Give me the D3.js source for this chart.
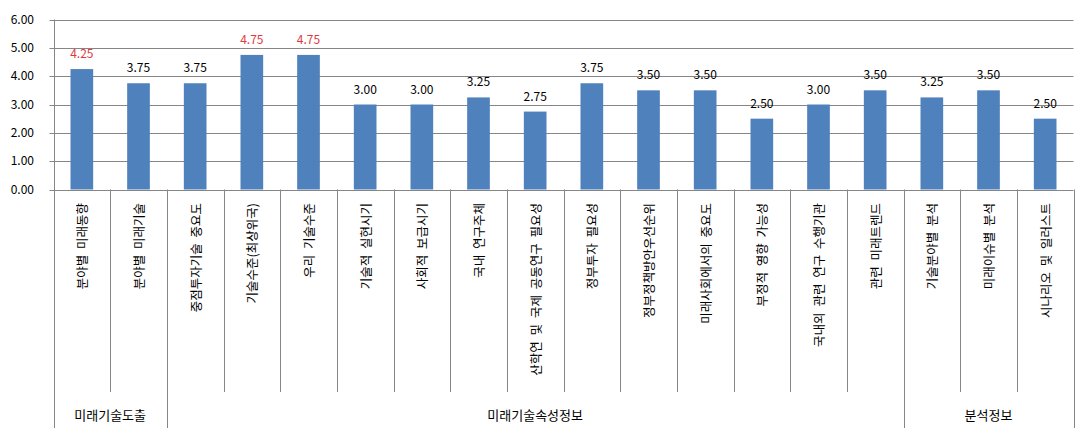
<!DOCTYPE html>
<html>
<head>
<meta charset="utf-8">
<script src="https://cdn.jsdelivr.net/npm/d3@7"></script>
<style>
  body { margin: 0; background: #fff; }
  svg text { font-family: "Noto Sans CJK KR", "Noto Sans", sans-serif; }
</style>
</head>
<body>
<svg id="chart" width="1090" height="434"></svg>
<script>
// ===== data =====
const categories = [
  "분야별 미래동향", "분야별 미래기술", "중점투자기술 중요도", "기술수준(최상위국)",
  "우리 기술수준", "기술적 실현시기", "사회적 보급시기", "국내 연구주체",
  "산학연 및 국제 공동연구 필요성", "정부투자 필요성", "정부정책방안우선순위",
  "미래사회에서의 중요도", "부정적 영향 가능성", "국내외 관련 연구 수행기관",
  "관련 미래트렌드", "기술분야별 분석", "미래이슈별 분석", "시나리오 및 일러스트"
];
const values = [4.25, 3.75, 3.75, 4.75, 4.75, 3.00, 3.00, 3.25, 2.75, 3.75,
                3.50, 3.50, 2.50, 3.00, 3.50, 3.25, 3.50, 2.50];
const highlighted = [true, false, false, true, true, false, false, false, false,
                     false, false, false, false, false, false, false, false, false];
const groupNames = ["미래기술도출", "미래기술속성정보", "분석정보"];
const groupSizes = [2, 13, 3];
const yTicks = [0, 1, 2, 3, 4, 5, 6];

// ===== layout =====
const svg = d3.select("#chart");
const plotLeft = 53.5, plotRight = 1073.5, plotTop = 19.5, plotBottom = 189.5;
const tickBottom = 392, groupBottom = 428;
const gridColor = "#868686";

const x = d3.scaleBand().domain(categories).range([plotLeft, plotRight]).paddingInner(0).paddingOuter(0);
const y = d3.scaleLinear().domain([0, 6]).range([plotBottom, plotTop]);
const barW = x.bandwidth() * 0.4;

// gridlines
svg.append("g")
  .selectAll("line")
  .data(yTicks)
  .enter()
  .append("line")
  .attr("x1", plotLeft - 4)
  .attr("x2", plotRight)
  .attr("y1", (d) => Math.round(y(d)) + 0.5)
  .attr("y2", (d) => Math.round(y(d)) + 0.5)
  .attr("stroke", gridColor)
  .attr("stroke-width", 1);

// y labels
svg.append("g")
  .selectAll("text")
  .data(yTicks)
  .enter()
  .append("text")
  .attr("x", 34)
  .attr("y", (d) => y(d))
  .attr("dy", "0.35em")
  .attr("text-anchor", "end")
  .style("font-size", "12px")
  .attr("fill", "#000")
  .text((d) => d3.format(".2f")(d));

// bars
svg.append("g")
  .selectAll("rect")
  .data(values)
  .enter()
  .append("rect")
  .attr("x", (d, i) => x(categories[i]) + (x.bandwidth() - barW) / 2)
  .attr("y", (d) => y(d))
  .attr("width", barW)
  .attr("height", (d) => y(0) - y(d))
  .attr("fill", "#4f81bd");

// value labels
svg.append("g")
  .selectAll("text")
  .data(values)
  .enter()
  .append("text")
  .attr("x", (d, i) => x(categories[i]) + x.bandwidth() / 2)
  .attr("y", (d) => y(d) - 11)
  .attr("text-anchor", "middle")
  .style("font-size", "12px")
  .attr("fill", (d, i) => (highlighted[i] ? "#e0393e" : "#000"))
  .text((d) => d3.format(".2f")(d));

// category separators
const catEdges = categories.map((c) => x(c)).concat([plotRight]);
const groupEdges = [0];
groupSizes.forEach((s, i) => groupEdges.push(groupEdges[i] + s));

svg.append("g")
  .selectAll("line")
  .data(catEdges)
  .enter()
  .append("line")
  .attr("x1", (d) => Math.round(d) + 0.5)
  .attr("x2", (d) => Math.round(d) + 0.5)
  .attr("y1", (d, i) => (i === 0 ? plotTop : plotBottom))
  .attr("y2", (d, i) => (groupEdges.includes(i) ? groupBottom : tickBottom))
  .attr("stroke", gridColor)
  .attr("stroke-width", 1);

// category labels (rotated)
svg.append("g")
  .selectAll("text")
  .data(categories)
  .enter()
  .append("text")
  .attr("transform", (d) => `translate(${x(d) + x.bandwidth() / 2},203) rotate(-90)`)
  .attr("text-anchor", "end")
  .attr("dominant-baseline", "central")
  .style("font-size", "12.5px")
  .style("word-spacing", "3px")
  .attr("fill", "#000")
  .text((d) => d);

// group labels
svg.append("g")
  .selectAll("text")
  .data(groupNames)
  .enter()
  .append("text")
  .attr("x", (d, i) => (catEdges[groupEdges[i]] + catEdges[groupEdges[i + 1]]) / 2)
  .attr("y", 415)
  .attr("dy", "0.35em")
  .attr("text-anchor", "middle")
  .style("font-size", "13px")
  .attr("fill", "#000")
  .text((d) => d);
</script>
</body>
</html>
